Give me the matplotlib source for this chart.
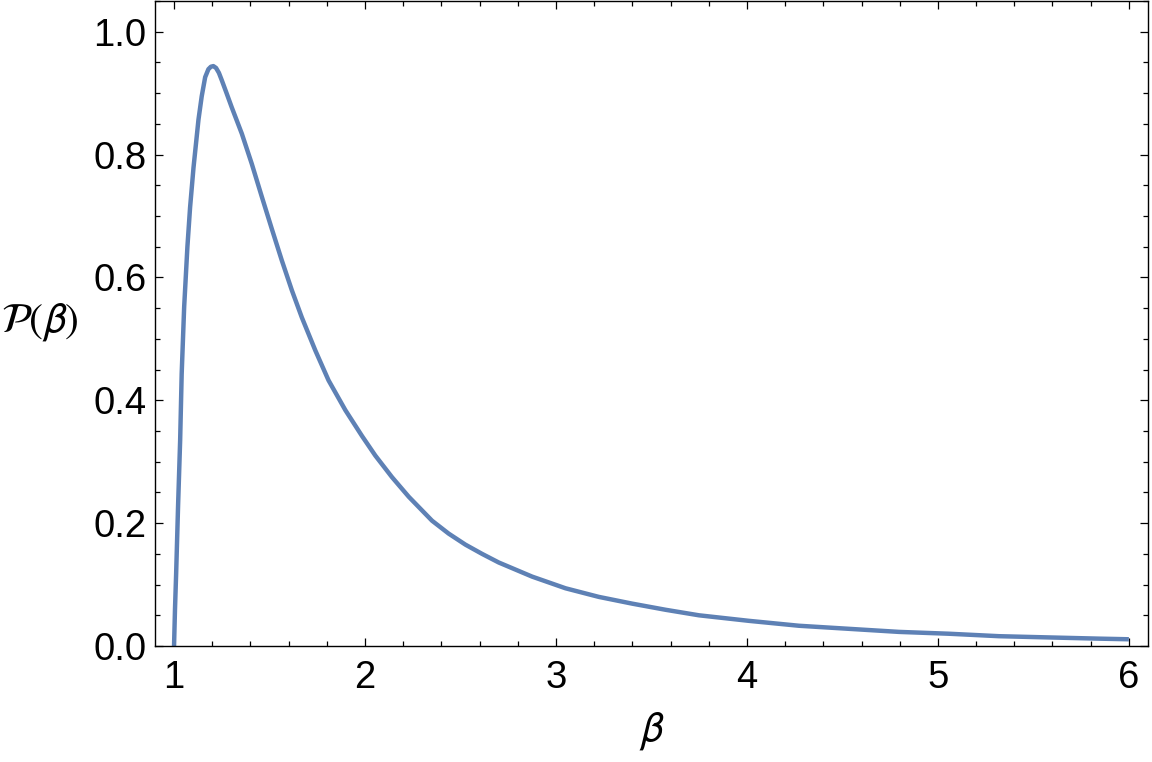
import matplotlib
matplotlib.use("Agg")
import matplotlib.pyplot as plt
from matplotlib.ticker import MultipleLocator

# values
beta = [1.0, 1.005, 1.011, 1.021, 1.032, 1.040, 1.053, 1.070, 1.084, 1.102,
        1.119, 1.128, 1.145, 1.163, 1.18, 1.193, 1.206, 1.22, 1.235, 1.25,
        1.275, 1.302, 1.355, 1.407, 1.460, 1.512, 1.564, 1.617, 1.669, 1.740,
        1.809, 1.897, 1.984, 2.054, 2.141, 2.229, 2.351, 2.438, 2.526, 2.613,
        2.700, 2.875, 3.050, 3.224, 3.399, 3.574, 3.749, 4.010, 4.272, 4.534,
        4.796, 5.058, 5.32, 5.58, 5.845, 6.0]
prob = [0.0, 0.06, 0.118, 0.227, 0.335, 0.443, 0.552, 0.650, 0.714, 0.779,
        0.830, 0.857, 0.895, 0.926, 0.939, 0.943, 0.944, 0.941, 0.933, 0.921,
        0.900, 0.877, 0.834, 0.785, 0.731, 0.679, 0.628, 0.579, 0.535, 0.481,
        0.4325, 0.384, 0.342, 0.310, 0.275, 0.243, 0.204, 0.183, 0.165, 0.150,
        0.136, 0.113, 0.094, 0.080, 0.069, 0.059, 0.050, 0.041, 0.033, 0.028,
        0.023, 0.020, 0.016, 0.014, 0.012, 0.011]

xticks = [1, 2, 3, 4, 5, 6]
yticks = [0.0, 0.2, 0.4, 0.6, 0.8, 1.0]

plt.rcParams['font.family'] = ['Liberation Sans', 'DejaVu Sans']
plt.rcParams['mathtext.fontset'] = 'stixsans'

fig = plt.figure(figsize=(11.52, 7.62), dpi=100)
ax = fig.add_axes([0.1345, 0.1522, 0.862, 0.8465])

ax.plot(beta, prob, color='#5E81B5', linewidth=3.2,
        solid_capstyle='butt', solid_joinstyle='round')

ax.set_xlim(0.9, 6.1)
ax.set_ylim(0.0, 1.05)
ax.set_xticks(xticks)
ax.set_xticklabels([str(t) for t in xticks])
ax.set_yticks(yticks)
ax.set_yticklabels([f"{t:.1f}" for t in yticks])
ax.xaxis.set_minor_locator(MultipleLocator(0.2))
ax.yaxis.set_minor_locator(MultipleLocator(0.05))

ax.tick_params(which='both', direction='in', top=True, right=True,
               labelsize=27.5, width=0.9, colors='black')
ax.tick_params(axis='x', which='major', length=5.5, pad=10)
ax.tick_params(axis='y', which='major', length=5.5, pad=6)
ax.tick_params(which='minor', length=3.5)
for s in ax.spines.values():
    s.set_linewidth(1.0)

ax.set_xlabel(r'$\beta$', fontsize=30, labelpad=10)
fig.text(0.001, 1 - 322 / 762, r'$\mathcal{P}(\beta)$', fontsize=30,
         ha='left', va='center')

fig.savefig("out.png", dpi=100)
